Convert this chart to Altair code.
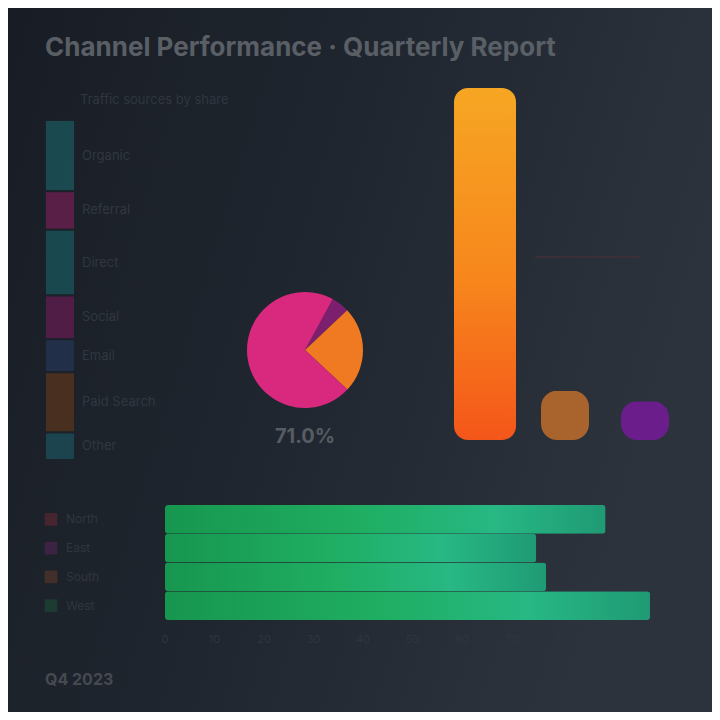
import math
import altair as alt
import pandas as pd

# ---------------- data ----------------
title_text = "Channel Performance · Quarterly Report"
subtitle_text = "Traffic sources by share"

channels = ["Organic", "Referral", "Direct", "Social", "Email", "Paid Search", "Other"]
channel_values = [65, 35, 60, 40, 30, 55, 25]

pie_labels = ["Partners", "Retail", "Online"]
pie_values = [5, 24, 71]
pie_caption = "71.0%"

bar_labels = ["Revenue", "Costs", "Returns"]
bar_values = [100, 14, 11]
target_value = [52]

row_labels = ["North", "East", "South", "West"]
row_values = [89, 75, 77, 98]
tick_values = [0, 10, 20, 30, 40, 50, 60, 70, 80, 90, 100]

footer_text = "Q4 2023"

# ---------------- styles ----------------
BG = "#1d222a"
ch_colors = ["#1b4d52", "#5e1f48", "#1a4b52", "#521d48", "#22314a", "#4b3020", "#1c4650"]
pie_colors = ["#7b1f6e", "#f07a22", "#d9297f"]
bar_colors = ["#f47a1d", "#a9632d", "#6b1d8c"]
row_colors = ["#4a2630", "#3f2445", "#45302a", "#1f3d33"]

orange_grad = {
    "gradient": "linear", "x1": 0, "x2": 0, "y1": 0, "y2": 1,
    "stops": [
        {"offset": 0, "color": "#f6a623"},
        {"offset": 0.55, "color": "#f7861c"},
        {"offset": 1, "color": "#f4561a"},
    ],
}
green_grad = {
    "gradient": "linear", "x1": 0, "x2": 1, "y1": 0, "y2": 0,
    "stops": [
        {"offset": 0, "color": "#17964f"},
        {"offset": 0.45, "color": "#1fae62"},
        {"offset": 0.75, "color": "#27b884"},
        {"offset": 1, "color": "#1f9a74"},
    ],
}
view_grad = {
    "gradient": "linear", "x1": 0, "x2": 1, "y1": 0, "y2": 0.3,
    "stops": [
        {"offset": 0, "color": "#181d25"},
        {"offset": 0.5, "color": "#20262f"},
        {"offset": 1, "color": "#2c333d"},
    ],
}

FONT = "Inter"

# ---------------- background panel ----------------
backdrop = alt.Chart(pd.DataFrame({"k": [0]})).mark_rect(fill=view_grad).encode(
    x=alt.value(0), x2=alt.value(704), y=alt.value(0), y2=alt.value(704)
)

# ---------------- left stacked column ----------------
df_ch = pd.DataFrame({"channel": channels, "value": channel_values,
                      "idx": list(range(len(channels))), "grp": "all"})
df_ch["mid"] = df_ch["value"].cumsum() - df_ch["value"] / 2
total_ch = sum(channel_values)
ch_y_scale = alt.Scale(domain=[0, total_ch], range=[112, 452], nice=False, zero=True)

column = alt.Chart(df_ch).mark_bar(stroke=BG, strokeWidth=2, opacity=0.95).encode(
    x=alt.X("grp:N", scale=alt.Scale(range=[37, 67], paddingInner=0, paddingOuter=0), axis=None),
    y=alt.Y("value:Q", stack="zero", scale=ch_y_scale, axis=None),
    order=alt.Order("idx:Q"),
    color=alt.Color("channel:N", scale=alt.Scale(domain=channels, range=ch_colors), legend=None),
)
column_labels = alt.Chart(df_ch).mark_text(align="left", baseline="middle", fontSize=13,
                                           font=FONT, color="#313740").encode(
    x=alt.value(74),
    y=alt.Y("mid:Q", scale=ch_y_scale, axis=None),
    text="channel:N",
)

# ---------------- pie ----------------
df_pie = pd.DataFrame({"label": pie_labels, "value": pie_values, "idx": [0, 1, 2]})
start = 0.5
pie = alt.Chart(df_pie).mark_arc(radius=58).encode(
    theta=alt.Theta("value:Q", stack=True,
                    scale=alt.Scale(domain=[0, sum(pie_values)], range=[start, start + 2 * math.pi])),
    order=alt.Order("idx:Q"),
    color=alt.Color("label:N", scale=alt.Scale(domain=pie_labels, range=pie_colors), legend=None),
    x=alt.value(297), y=alt.value(342),
)
pie_cap = alt.Chart(pd.DataFrame({"t": [pie_caption]})).mark_text(
    align="center", baseline="middle", fontSize=20, fontWeight="bold", font=FONT, color="#575c63"
).encode(x=alt.value(297), y=alt.value(429), text="t:N")

# ---------------- right bars ----------------
df_bar = pd.DataFrame({"label": bar_labels, "value": bar_values})
bar_x = alt.Scale(domain=bar_labels, range=[437, 677], paddingInner=0, paddingOuter=0)
bar_y = alt.Scale(domain=[0, 100], range=[432, 80], nice=False)

bars = alt.Chart(df_bar).mark_bar(width=48, cornerRadius=16).encode(
    x=alt.X("label:N", sort=bar_labels, scale=bar_x, axis=None),
    y=alt.Y("value:Q", scale=bar_y, axis=None),
    color=alt.Color("label:N", scale=alt.Scale(domain=bar_labels, range=bar_colors), legend=None),
)
big_bar = alt.Chart(df_bar).transform_filter(
    alt.datum.label == bar_labels[0]
).mark_bar(width=62, cornerRadius=14, fill=orange_grad).encode(
    x=alt.X("label:N", sort=bar_labels, scale=bar_x, axis=None),
    y=alt.Y("value:Q", scale=bar_y, axis=None),
)
target = alt.Chart(pd.DataFrame({"v": target_value})).mark_rule(
    color="#4a2f35", strokeWidth=2, opacity=0.6
).encode(
    y=alt.Y("v:Q", scale=bar_y, axis=None),
    x=alt.value(527), x2=alt.value(632),
)

# ---------------- bottom rows ----------------
df_rows = pd.DataFrame({"row": row_labels, "value": row_values})
row_y = alt.Scale(domain=row_labels, range=[497, 612], paddingInner=0.0, paddingOuter=0)
row_x = alt.Scale(domain=[0, 100], range=[157, 652], nice=False)

rows = alt.Chart(df_rows).mark_bar(fill=green_grad, cornerRadius=3).encode(
    y=alt.Y("row:N", sort=row_labels, scale=row_y, axis=None),
    x=alt.X("value:Q", scale=row_x, axis=None),
)
row_swatch = alt.Chart(df_rows).mark_square(size=160, opacity=0.95).encode(
    y=alt.Y("row:N", sort=row_labels, scale=row_y, axis=None),
    x=alt.value(43),
    color=alt.Color("row:N", scale=alt.Scale(domain=row_labels, range=row_colors), legend=None),
)
row_text = alt.Chart(df_rows).mark_text(align="left", baseline="middle", fontSize=12,
                                        font=FONT, color="#30363f").encode(
    y=alt.Y("row:N", sort=row_labels, scale=row_y, axis=None),
    x=alt.value(58),
    text="row:N",
)
ticks = alt.Chart(pd.DataFrame({"v": tick_values})).mark_text(
    align="center", baseline="middle", fontSize=11, font=FONT, color="#2f353e"
).encode(
    x=alt.X("v:Q", scale=row_x, axis=None),
    y=alt.value(632),
    text="v:Q",
)

# ---------------- texts ----------------
title = alt.Chart(pd.DataFrame({"t": [title_text]})).mark_text(
    align="left", baseline="middle", fontSize=26, fontWeight="bold", font=FONT, color="#5a5f66"
).encode(x=alt.value(37), y=alt.value(40), text="t:N")
subtitle = alt.Chart(pd.DataFrame({"t": [subtitle_text]})).mark_text(
    align="left", baseline="middle", fontSize=13, font=FONT, color="#30363f"
).encode(x=alt.value(72), y=alt.value(92), text="t:N")
footer = alt.Chart(pd.DataFrame({"t": [footer_text]})).mark_text(
    align="left", baseline="middle", fontSize=16, fontWeight="bold", font=FONT, color="#454a51"
).encode(x=alt.value(37), y=alt.value(672), text="t:N")

chart = alt.layer(
    backdrop, column, column_labels, pie, pie_cap, target, bars, big_bar,
    rows, row_swatch, row_text, ticks, title, subtitle, footer,
).resolve_scale(
    x="independent", y="independent", color="independent", theta="independent"
).properties(
    width=704, height=704, padding=0, autosize="none", background=BG
).configure_view(stroke=None)

chart.save("out.html", embed_options={"renderer": "svg", "actions": False})
